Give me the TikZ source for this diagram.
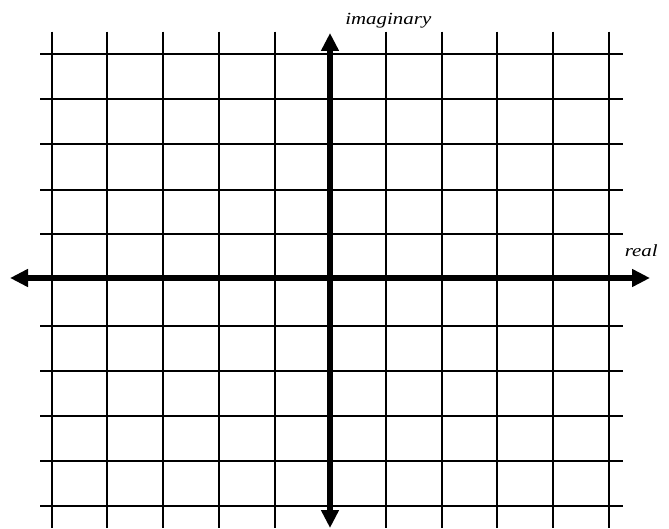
\documentclass[tikz,border=0pt]{standalone}
\usepackage{fontspec}
\setmainfont{Liberation Serif}
\usetikzlibrary{arrows.meta}
\begin{document}
\begin{tikzpicture}[x=1pt,y=-1pt,
  gridline/.style={line width=2pt,black},
  axisline/.style={line width=5.5pt,black,{Triangle[length=18pt,width=17pt]}-{Triangle[length=18pt,width=17pt]}},
  axislabel/.style={font=\fontsize{17}{20}\selectfont\itshape,inner sep=0pt,anchor=base,xscale=1.23}]
\useasboundingbox (0,0) rectangle (669,529);
% vertical grid lines
\foreach \k in {0,1,2,3,4,6,7,8,9,10}{
  \draw[gridline] ({51.7+55.7*\k},31.7) -- ({51.7+55.7*\k},528);
}
% horizontal grid lines
\foreach \yy in {53.7,99,144.3,189.6,234.4,325.7,371,416,461,506}{
  \draw[gridline] (40,\yy) -- (622.7,\yy);
}
% axes
\coordinate (L) at (10,278);
\coordinate (R) at (650,278);
\coordinate (T) at (330,33);
\coordinate (B) at (330,528);
\draw[axisline] (L) -- (R);
\draw[axisline] (B) -- (T);
\node[axislabel] (im) at (388.3,24.3) {imaginary};
\node[axislabel] (re) at (641.3,256.3) {real};
\end{tikzpicture}
\end{document}
